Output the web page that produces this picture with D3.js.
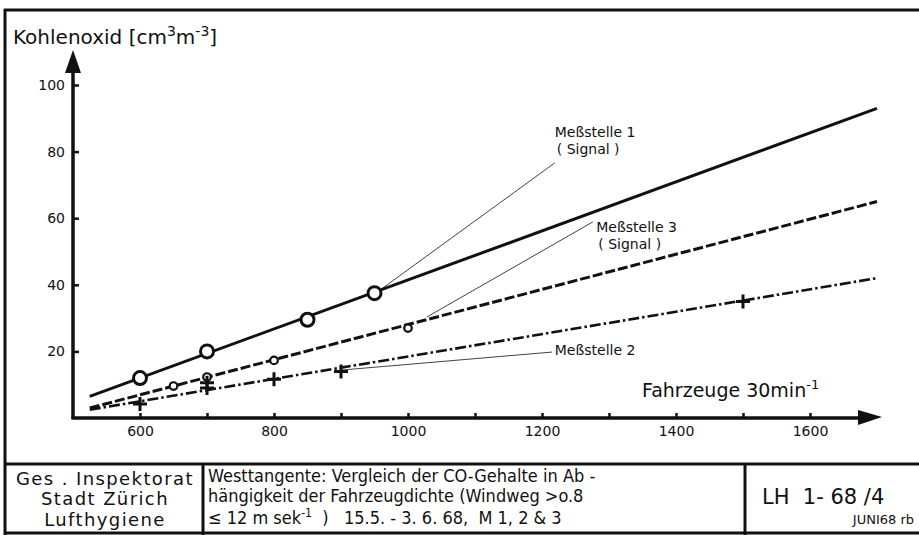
<!DOCTYPE html>
<html><head><meta charset="utf-8">
<script src="https://cdn.jsdelivr.net/npm/d3@7"></script>
<style>
body{margin:0;background:#fff;}
svg{display:block;font-family:"DejaVu Sans",sans-serif;}
</style></head>
<body><svg id="c" width="919" height="535"></svg>
<script>
// ---- data ----
const xTicks = [600, 800, 1000, 1200, 1400, 1600];
const xMinorTicks = [600, 700, 800, 900, 1000, 1100, 1200, 1300, 1400, 1500, 1600];
const yTicks = [20, 40, 60, 80, 100];
// Meßstelle 1 (Signal): open circles, solid regression line
const m1Points = [[600, 12], [700, 20], [850, 29.5], [950, 37.5]];
const m1Line = [[525, 6.5], [1700, 93]];
// Meßstelle 3 (Signal): small circles, dashed line
const m3Points = [[650, 9.6], [700, 12.3], [800, 17.3], [1000, 27]];
const m3Line = [[525, 3], [1700, 65]];
// Meßstelle 2: crosses, dash-dot line
const m2Points = [[600, 4.2], [700, 10.6], [700, 9], [800, 11.6], [900, 14], [1500, 35]];
const m2Line = [[525, 2.5], [1700, 42]];
// label anchors (data units)
const labels = [
  {lines: ["Meßstelle 1", "( Signal )"], at: [1219, 84.4], from: [1219, 76.6], to: [958, 38.4]},
  {lines: ["Meßstelle 3", "( Signal )"], at: [1281, 55.9], from: [1276, 58.9], to: [1028, 30.3]},
  {lines: ["Meßstelle 2"], at: [1219, 18.9], from: [1215, 19.8], to: [901, 14.4]}
];

const svg = d3.select("#c");
const x = d3.scaleLinear().domain([500, 1700]).range([73, 877]);
const y = d3.scaleLinear().domain([0, 100]).range([418, 85]);
const ink = "#111";

// ---- frame / title block ----
const frame = svg.append("g").attr("stroke", ink).attr("fill", "none");
frame.append("line").attr("x1", 4).attr("x2", 919).attr("y1", 10).attr("y2", 10).attr("stroke-width", 3);
frame.append("line").attr("x1", 5).attr("x2", 5).attr("y1", 9).attr("y2", 535).attr("stroke-width", 3);
frame.append("line").attr("x1", 4).attr("x2", 919).attr("y1", 464).attr("y2", 464).attr("stroke-width", 3);
frame.append("line").attr("x1", 4).attr("x2", 919).attr("y1", 533).attr("y2", 533).attr("stroke-width", 3);
frame.append("line").attr("x1", 203).attr("x2", 203).attr("y1", 464).attr("y2", 535).attr("stroke-width", 3);
frame.append("line").attr("x1", 745).attr("x2", 745).attr("y1", 464).attr("y2", 535).attr("stroke-width", 3);

const tb = svg.append("g").attr("fill", ink);
[["Ges . Inspektorat", 485], ["Stadt Zürich", 505], ["Lufthygiene", 526]].forEach(([t, yy]) =>
  tb.append("text").attr("x", 105).attr("y", yy).attr("text-anchor", "middle")
    .attr("font-size", 18).attr("letter-spacing", 1.4).text(t));
const mid = tb.append("g").attr("font-family", "DejaVu Sans Condensed, DejaVu Sans").attr("font-size", 18);
mid.append("text").attr("x", 208).attr("y", 482).text("Westtangente: Vergleich der CO-Gehalte in Ab -");
mid.append("text").attr("x", 208).attr("y", 502).text("hängigkeit der Fahrzeugdichte (Windweg >o.8");
const l3 = mid.append("text").attr("x", 208).attr("y", 524);
l3.append("tspan").text("≤ 12 m sek");
l3.append("tspan").attr("dy", -7).attr("font-size", 12).text("-1");
l3.append("tspan").attr("dy", 7).attr("xml:space", "preserve").text("  )   15.5. - 3. 6. 68,  M 1, 2 & 3");
tb.append("text").attr("x", 762).attr("y", 504).attr("font-size", 21).attr("xml:space", "preserve").text("LH  1- 68 /4");
tb.append("text").attr("x", 914).attr("y", 524).attr("font-size", 13).attr("text-anchor", "end").text("JUNI68 rb");

// ---- axes ----
const yAxis = svg.append("g").attr("transform", `translate(${x(500)},0)`)
  .call(d3.axisLeft(y).tickValues(yTicks).tickSize(-6).tickPadding(8).tickFormat(d3.format("d")));
yAxis.select(".domain").remove();
yAxis.selectAll(".tick line").attr("stroke", ink).attr("stroke-width", 2.5);
yAxis.selectAll(".tick text").attr("fill", ink).attr("font-size", 14).attr("font-family", "DejaVu Sans");

const xAxis = svg.append("g").attr("transform", `translate(0,${y(0)})`)
  .call(d3.axisBottom(x).tickValues(xMinorTicks).tickSize(-5).tickPadding(8)
    .tickFormat(d => xTicks.includes(d) ? d : ""));
xAxis.select(".domain").remove();
xAxis.selectAll(".tick line").attr("stroke", ink).attr("stroke-width", 2.5);
xAxis.selectAll(".tick text").attr("fill", ink).attr("font-size", 14).attr("font-family", "DejaVu Sans");

// axis lines with arrows
svg.append("line").attr("x1", x(500)).attr("x2", x(500)).attr("y1", y(0) + 1).attr("y2", 70)
  .attr("stroke", ink).attr("stroke-width", 3.5);
svg.append("path").attr("d", `M${x(500)},50 L${x(500) - 8},73 L${x(500) + 8},73 Z`).attr("fill", ink);
svg.append("line").attr("x1", x(500) - 1.5).attr("x2", 862).attr("y1", y(0)).attr("y2", y(0))
  .attr("stroke", ink).attr("stroke-width", 3.5);
svg.append("path").attr("d", `M882,${y(0) - 1} L858,${y(0) - 8} L858,${y(0) + 7} Z`).attr("fill", ink);

// axis titles
const yt = svg.append("text").attr("x", 13).attr("y", 44).attr("fill", ink).attr("font-size", 20);
yt.append("tspan").text("Kohlenoxid [cm");
yt.append("tspan").attr("dy", -8).attr("font-size", 14).text("3");
yt.append("tspan").attr("dy", 8).text("m");
yt.append("tspan").attr("dy", -8).attr("font-size", 14).text("-3");
yt.append("tspan").attr("dy", 8).text("]");

const xt = svg.append("text").attr("x", 642).attr("y", 397).attr("fill", ink).attr("font-size", 19);
xt.append("tspan").text("Fahrzeuge 30min");
xt.append("tspan").attr("dy", -8).attr("font-size", 13).text("-1");

// ---- series lines ----
const line = d3.line().x(d => x(d[0])).y(d => y(d[1]));
svg.append("path").datum(m1Line).attr("d", line).attr("fill", "none").attr("stroke", ink).attr("stroke-width", 3);
svg.append("path").datum(m3Line).attr("d", line).attr("fill", "none").attr("stroke", ink)
  .attr("stroke-width", 3).attr("stroke-dasharray", "10,3");
svg.append("path").datum(m2Line).attr("d", line).attr("fill", "none").attr("stroke", ink)
  .attr("stroke-width", 2.6).attr("stroke-dasharray", "11,3,2.5,3");

// ---- markers ----
svg.append("g").selectAll("circle").data(m1Points).join("circle")
  .attr("cx", d => x(d[0])).attr("cy", d => y(d[1])).attr("r", 6.5)
  .attr("fill", "#fff").attr("stroke", ink).attr("stroke-width", 3);
svg.append("g").selectAll("circle").data(m3Points).join("circle")
  .attr("cx", d => x(d[0])).attr("cy", d => y(d[1])).attr("r", 3.8)
  .attr("fill", "#fff").attr("stroke", ink).attr("stroke-width", 2.2);
svg.append("g").selectAll("path").data(m2Points).join("path")
  .attr("d", d => { const cx = x(d[0]), cy = y(d[1]); return `M${cx - 7},${cy} H${cx + 7} M${cx},${cy - 7} V${cy + 7}`; })
  .attr("stroke", ink).attr("stroke-width", 3).attr("fill", "none");

// ---- labels and leader lines ----
labels.forEach(L => {
  svg.append("line").attr("x1", x(L.from[0])).attr("y1", y(L.from[1]))
    .attr("x2", x(L.to[0])).attr("y2", y(L.to[1])).attr("stroke", ink).attr("stroke-width", 0.8);
  const t = svg.append("text").attr("x", x(L.at[0])).attr("y", y(L.at[1])).attr("fill", ink).attr("font-size", 14);
  L.lines.forEach((s, i) => t.append("tspan").attr("x", x(L.at[0]) + (i ? 2 : 0)).attr("dy", i ? 17 : 0).text(s));
});
</script></body></html>
